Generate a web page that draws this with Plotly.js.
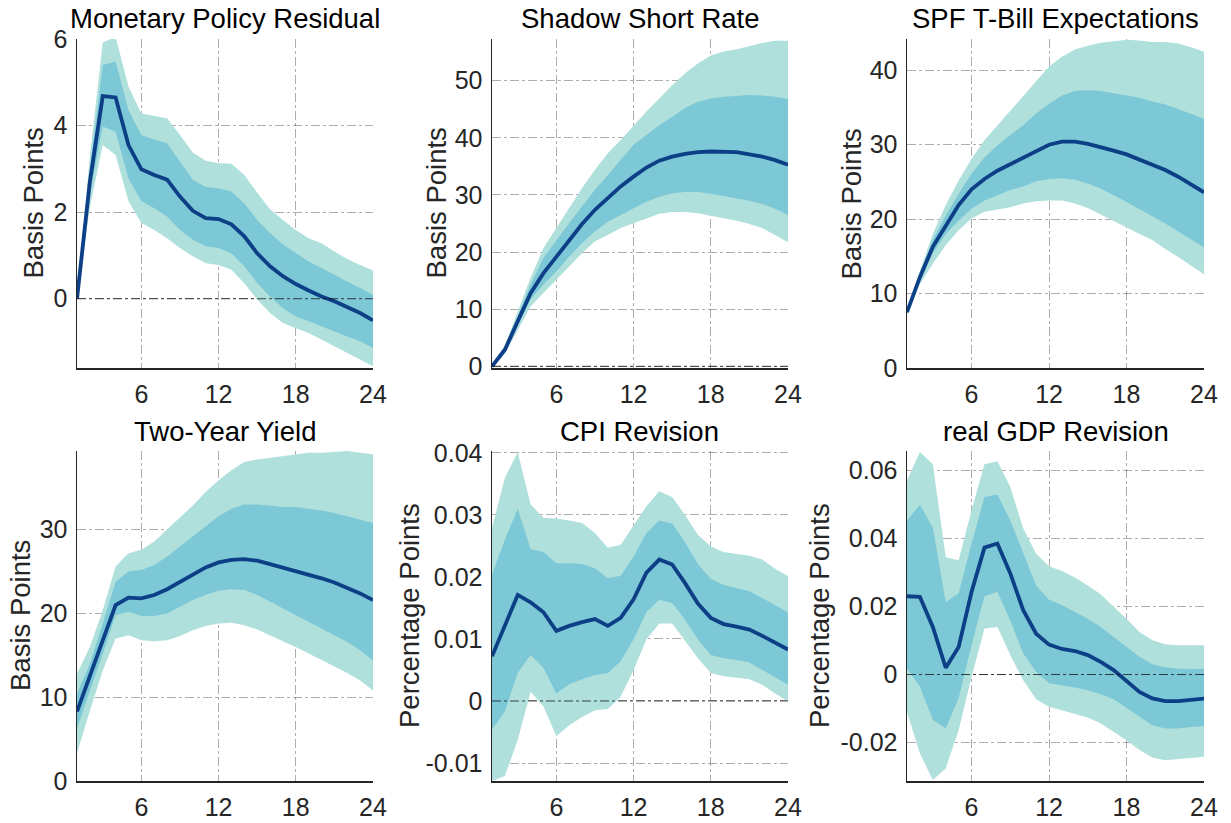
<!DOCTYPE html>
<html>
<head>
<meta charset="utf-8">
<script src="https://cdn.plot.ly/plotly-3.0.1.min.js"></script>
<style>html,body{margin:0;padding:0;background:#fff;}#chart{width:1231px;height:823px;}</style>
</head>
<body>
<div id="chart"></div>
<script>
// ---------- data ----------
const horizon = [1,2,3,4,5,6,7,8,9,10,11,12,13,14,15,16,17,18,19,20,21,22,23,24];
const xTickVals = [6,12,18,24];
const xTickText = ["6","12","18","24"];

// Monetary Policy Residual
const mprLine = [0,2.7,4.68,4.65,3.55,2.99,2.86,2.75,2.36,2.03,1.86,1.84,1.72,1.44,1.05,0.75,0.52,0.34,0.19,0.05,-0.06,-0.19,-0.33,-0.5];
const mprInUp = [0,3.0,5.4,5.48,4.36,3.78,3.68,3.59,3.17,2.75,2.58,2.55,2.48,2.2,1.82,1.52,1.25,1.05,0.86,0.71,0.55,0.4,0.25,0.09];
const mprInLo = [0,2.4,3.98,3.86,2.78,2.25,2.09,1.9,1.59,1.36,1.21,1.17,1.05,0.75,0.36,0.05,-0.22,-0.41,-0.52,-0.64,-0.75,-0.87,-0.98,-1.14];
const mprOutUp = [0,3.3,5.92,6.05,4.9,4.28,4.22,4.17,3.78,3.38,3.19,3.13,3.12,2.86,2.45,2.07,1.82,1.59,1.4,1.28,1.09,0.92,0.78,0.65];
const mprOutLo = [0,2.1,3.55,3.32,2.25,1.75,1.59,1.4,1.17,0.98,0.82,0.78,0.67,0.36,-0.02,-0.33,-0.56,-0.68,-0.79,-0.95,-1.1,-1.25,-1.41,-1.56];

// Shadow Short Rate
const ssrLine = [0,2.9,7.9,12.8,16.3,19.2,22.1,24.9,27.4,29.5,31.5,33.2,34.8,36.0,36.7,37.2,37.5,37.6,37.6,37.5,37.1,36.7,36.1,35.3];
const ssrInUp = [0.2,3.3,8.8,14.3,19.0,22.1,25.1,28.0,30.9,33.5,36.1,38.8,40.5,42.2,43.7,45.2,46.3,46.9,47.2,47.3,47.5,47.4,47.2,46.8];
const ssrInLo = [-0.2,2.5,7.0,11.7,14.3,16.6,19.2,21.6,23.6,25.3,26.5,27.7,28.8,29.7,30.3,30.5,30.5,30.2,29.9,29.4,29.0,28.4,27.6,26.5];
const ssrOutUp = [0.4,3.6,9.6,15.5,20.7,24.2,27.7,31.2,34.4,37.3,39.6,42.2,44.6,46.9,49.2,51.3,53.0,54.4,55.1,55.5,56.1,56.6,57.0,57.0];
const ssrOutLo = [-0.3,2.2,6.3,10.5,12.8,15.2,17.5,19.8,21.9,23.0,24.2,25.1,25.9,26.7,27.0,27.0,26.8,26.3,25.9,25.5,24.9,24.2,23.0,21.7];

// SPF T-Bill Expectations
const spfLine = [7.5,12.2,16.3,19.2,21.9,24.0,25.4,26.5,27.4,28.3,29.2,30.0,30.4,30.4,30.1,29.7,29.2,28.7,28.0,27.2,26.6,25.7,24.7,23.6];
const spfInUp = [7.6,12.6,17.2,20.5,23.4,26.1,28.3,29.9,31.3,32.6,34.2,35.5,36.6,37.2,37.3,37.2,36.9,36.6,36.3,35.8,35.4,34.8,34.2,33.5];
const spfInLo = [7.4,11.8,15.4,18.0,19.8,21.4,22.5,23.2,23.9,24.4,25.1,25.4,25.5,25.3,24.8,24.1,23.2,22.3,21.4,20.4,19.4,18.4,17.3,16.2];
const spfOutUp = [7.8,13.1,18.0,21.9,25.2,28.1,30.6,32.6,34.6,36.6,38.6,40.5,41.8,42.8,43.3,43.7,43.9,44.1,44.0,43.8,43.8,43.6,43.1,42.5];
const spfOutLo = [7.2,11.3,14.0,16.5,18.5,20.1,21.0,21.3,21.6,22.1,22.4,22.5,22.5,22.1,21.5,20.7,19.8,18.9,18.0,17.2,16.0,14.9,13.8,12.6];

// Two-Year Yield
const tyLine = [8.3,12.4,16.8,21.0,21.9,21.8,22.2,22.9,23.8,24.7,25.5,26.1,26.4,26.5,26.3,25.9,25.5,25.1,24.6,24.2,23.7,23.1,22.4,21.6];
const tyInUp = [10.4,14.0,18.8,23.8,25.0,25.2,25.8,26.8,28.0,29.2,30.4,31.6,32.5,33.0,33.0,32.9,32.7,32.7,32.5,32.3,32.0,31.6,31.2,30.8];
const tyInLo = [6.3,10.8,15.2,19.8,20.2,19.7,19.7,20.0,20.8,21.6,22.2,22.7,22.9,22.8,22.2,21.4,20.6,19.8,19.0,18.2,17.4,16.6,15.6,14.4];
const tyOutUp = [12.8,16.0,20.4,25.6,27.2,27.6,28.6,30.0,31.5,32.9,34.5,35.9,37.1,38.1,38.4,38.6,38.8,39.0,39.2,39.2,39.3,39.4,39.2,39.0];
const tyOutLo = [3.3,8.4,13.2,17.0,17.4,16.8,16.7,16.8,17.3,18.0,18.5,18.8,18.9,18.6,18.1,17.4,16.7,16.0,15.3,14.5,13.7,12.9,12.0,10.8];

// CPI Revision
const cpiLine = [0.0072,0.0120,0.0171,0.0159,0.0143,0.0113,0.0121,0.0127,0.0132,0.0121,0.0134,0.0164,0.0207,0.0228,0.0220,0.0190,0.0157,0.0134,0.0124,0.0120,0.0115,0.0105,0.0094,0.0083];
const cpiInUp = [0.0204,0.0260,0.0310,0.0245,0.0240,0.0222,0.0222,0.0221,0.0214,0.0198,0.0202,0.0233,0.0271,0.0291,0.0286,0.0256,0.0221,0.0197,0.0187,0.0182,0.0177,0.0166,0.0155,0.0143];
const cpiInLo = [-0.0046,-0.0017,0.0045,0.0074,0.0053,0.0012,0.0027,0.0035,0.0042,0.0045,0.0064,0.0099,0.0143,0.0163,0.0158,0.0131,0.0099,0.0074,0.0069,0.0066,0.0062,0.0051,0.0038,0.0026];
const cpiOutUp = [0.0279,0.0360,0.0401,0.0317,0.0295,0.0294,0.0291,0.0287,0.0271,0.0247,0.0252,0.0282,0.0314,0.0338,0.0329,0.0300,0.0268,0.0249,0.0240,0.0237,0.0234,0.0228,0.0213,0.0201];
const cpiOutLo = [-0.0129,-0.0121,-0.0063,0.0015,-0.0009,-0.0057,-0.0039,-0.0026,-0.0015,-0.0013,0.0007,0.0050,0.0099,0.0125,0.0125,0.0097,0.0069,0.0045,0.0040,0.0038,0.0035,0.0026,0.0012,-0.0001];

// real GDP Revision
const gdpLine = [0.0230,0.0228,0.0140,0.0020,0.0081,0.0243,0.0373,0.0385,0.0297,0.0189,0.0120,0.0088,0.0075,0.0069,0.0057,0.0037,0.0013,-0.0019,-0.0051,-0.0070,-0.0078,-0.0078,-0.0075,-0.0071];
const gdpInUp = [0.0453,0.0499,0.0432,0.0213,0.0238,0.0385,0.0522,0.0529,0.0453,0.0355,0.0262,0.0220,0.0204,0.0184,0.0164,0.0140,0.0111,0.0081,0.0052,0.0030,0.0021,0.0017,0.0016,0.0016];
const gdpInLo = [0.0018,-0.0036,-0.0134,-0.0159,-0.0070,0.0086,0.0230,0.0243,0.0158,0.0062,0.0008,-0.0026,-0.0031,-0.0038,-0.0046,-0.0058,-0.0073,-0.0097,-0.0124,-0.0149,-0.0159,-0.0159,-0.0154,-0.0152];
const gdpOutUp = [0.0570,0.0654,0.0618,0.0345,0.0336,0.0483,0.0618,0.0627,0.0551,0.0429,0.0355,0.0318,0.0304,0.0285,0.0262,0.0236,0.0199,0.0164,0.0125,0.0101,0.0089,0.0086,0.0086,0.0086];
const gdpOutLo = [-0.0110,-0.0232,-0.0310,-0.0276,-0.0163,-0.0007,0.0135,0.0140,0.0057,-0.0017,-0.0073,-0.0095,-0.0105,-0.0115,-0.0126,-0.0144,-0.0168,-0.0193,-0.0222,-0.0244,-0.0252,-0.0250,-0.0245,-0.0242];

const titles = ["Monetary Policy Residual","Shadow Short Rate","SPF T-Bill Expectations","Two-Year Yield","CPI Revision","real GDP Revision"];
const yTitles = ["Basis Points","Basis Points","Basis Points","Basis Points","Percentage Points","Percentage Points"];
const yTickVals = [[0,2,4,6],[0,10,20,30,40,50],[0,10,20,30,40],[0,10,20,30],[-0.01,0,0.01,0.02,0.03,0.04],[-0.02,0,0.02,0.04,0.06]];
const yTickText = [["0","2","4","6"],["0","10","20","30","40","50"],["0","10","20","30","40"],["0","10","20","30"],["-0.01","0","0.01","0.02","0.03","0.04"],["-0.02","0","0.02","0.04","0.06"]];
const yRanges = [[-1.6,6.0],[-0.3,57.3],[0,44.2],[0,39.4],[-0.0129,0.0403],[-0.0313,0.0657]];
const showZero = [true,true,false,false,true,true];

// ---------- styling / layout ----------
const W = 1231, H = 823;
const colPx = [[77,373],[492,788],[907,1204]];
const rowPx = [[39,368],[451,781]];
const yTitleX = [33,436,851,20,409,819];
const titleY = [19,431];
const cOuter = '#b0e0dc', cInner = '#7dc8d6', cLine = '#0c3f86';
const axisCol = '#262626';
const font = "'Liberation Sans', Arial, Helvetica, sans-serif";

const panels = [
  [mprLine,mprInUp,mprInLo,mprOutUp,mprOutLo],
  [ssrLine,ssrInUp,ssrInLo,ssrOutUp,ssrOutLo],
  [spfLine,spfInUp,spfInLo,spfOutUp,spfOutLo],
  [tyLine,tyInUp,tyInLo,tyOutUp,tyOutLo],
  [cpiLine,cpiInUp,cpiInLo,cpiOutUp,cpiOutLo],
  [gdpLine,gdpInUp,gdpInLo,gdpOutUp,gdpOutLo]
];

const traces = [];
const layout = {
  width: W, height: H, margin: {l:0,r:0,t:0,b:0},
  paper_bgcolor: '#fff', plot_bgcolor: '#fff',
  showlegend: false, font: {family: font, color: axisCol},
  annotations: [], shapes: []
};

const bandX = horizon.concat(horizon.slice().reverse());

panels.forEach((p, i) => {
  const [line, inUp, inLo, outUp, outLo] = p;
  const n = i + 1;
  const xa = n === 1 ? 'x' : 'x' + n;
  const ya = n === 1 ? 'y' : 'y' + n;
  traces.push({x: bandX, y: outUp.concat(outLo.slice().reverse()), xaxis: xa, yaxis: ya,
    type: 'scatter', mode: 'lines', fill: 'toself', fillcolor: cOuter, line: {width: 0, color: cOuter}, hoverinfo: 'skip'});
  traces.push({x: bandX, y: inUp.concat(inLo.slice().reverse()), xaxis: xa, yaxis: ya,
    type: 'scatter', mode: 'lines', fill: 'toself', fillcolor: cInner, line: {width: 0, color: cInner}, hoverinfo: 'skip'});
  traces.push({x: horizon, y: line, xaxis: xa, yaxis: ya, type: 'scatter', mode: 'lines',
    line: {color: cLine, width: 3.8}});

  const col = i % 3, row = Math.floor(i / 3);
  const xd = [colPx[col][0] / W, colPx[col][1] / W];
  const yd = [1 - rowPx[row][1] / H, 1 - rowPx[row][0] / H];
  const xKey = n === 1 ? 'xaxis' : 'xaxis' + n;
  const yKey = n === 1 ? 'yaxis' : 'yaxis' + n;
  layout[xKey] = {
    domain: xd, anchor: ya, range: [1, 24], tickmode: 'array', tickvals: xTickVals, ticktext: xTickText,
    showgrid: true, gridcolor: 'rgba(0,0,0,0.32)', griddash: 'dashdot', gridwidth: 1,
    showline: true, linecolor: axisCol, linewidth: 1.5, ticks: '', zeroline: false,
    tickfont: {size: 25, color: axisCol, family: font}, ticklabelstandoff: 3, fixedrange: true
  };
  layout[yKey] = {
    domain: yd, anchor: xa, range: yRanges[i], tickmode: 'array', tickvals: yTickVals[i], ticktext: yTickText[i],
    showgrid: true, gridcolor: 'rgba(0,0,0,0.32)', griddash: 'dashdot', gridwidth: 1,
    showline: true, linecolor: axisCol, linewidth: 1.5, ticks: '', zeroline: false,
    tickfont: {size: 25, color: axisCol, family: font}, ticklabelstandoff: 3, fixedrange: true
  };
  if (showZero[i]) {
    layout.shapes.push({type: 'line', xref: xa + ' domain', yref: ya, x0: 0, x1: 1, y0: 0, y1: 0,
      line: {color: 'rgba(0,0,0,0.7)', width: 1, dash: 'dashdot'}, layer: 'above'});
  }
  layout.annotations.push({text: titles[i], xref: 'paper', yref: 'paper',
    x: (xd[0] + xd[1]) / 2, y: 1 - titleY[row] / H, xanchor: 'center', yanchor: 'middle',
    showarrow: false, font: {size: 27.5, color: '#000', family: font}});
  layout.annotations.push({text: yTitles[i], xref: 'paper', yref: 'paper', textangle: -90,
    x: yTitleX[i] / W, y: (yd[0] + yd[1]) / 2, xanchor: 'center', yanchor: 'middle',
    showarrow: false, font: {size: 27.5, color: axisCol, family: font}});
});

Plotly.newPlot('chart', traces, layout, {staticPlot: true, displayModeBar: false});
</script>
</body>
</html>
